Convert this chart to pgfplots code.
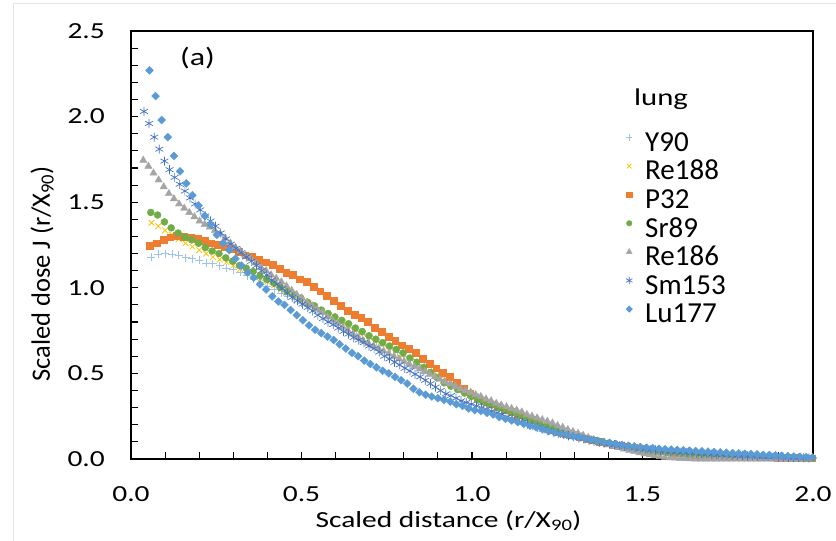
\documentclass[border=0pt]{standalone}
\usepackage{pgfplots}
\pgfplotsset{compat=1.18}
\usepackage{fontspec}
\setmainfont{Carlito}
\newfontfamily\wide{Carlito}[FakeStretch=1.28]
\newcommand\tickfont{\wide\fontsize{23bp}{27bp}\selectfont}
\newcommand\legfont{\fontsize{29bp}{34bp}\selectfont}
\definecolor{cY}{HTML}{9DC3E6}
\definecolor{cReA}{HTML}{FFC000}
\definecolor{cP}{HTML}{ED7D31}
\definecolor{cSr}{HTML}{70AD47}
\definecolor{cReB}{HTML}{A5A5A5}
\definecolor{cSm}{HTML}{4472C4}
\definecolor{cLu}{HTML}{5B9BD5}
\begin{document}
\begin{tikzpicture}
\useasboundingbox (-131bp,-82bp) rectangle (705bp,459bp);
\draw[black!10, line width=0.8bp] (-118bp,-83bp) -- (-118bp,456bp) -- (706bp,456bp);
\begin{axis}[
  at={(0,0)}, anchor=south west,
  scale only axis, width=682bp, height=428bp,
  xmin=0, xmax=2, ymin=0, ymax=2.5,
  clip=false,
  xtick={0,0.5,...,2}, ytick={0,0.5,...,2.5},
  minor x tick num=4, minor y tick num=4,
  tick align=inside, tick pos=left,
  major tick length=7bp, minor tick length=7bp,
  every tick/.style={black, line width=1.1bp},
  axis line style={black, line width=1.3bp},
  /pgf/number format/assume math mode=true,
  /pgf/number format/.cd, fixed, fixed zerofill, precision=1, /pgfplots/.cd,
  xticklabel style={font=\tickfont, inner sep=0pt, anchor=base, yshift=-42.7bp},
  yticklabel style={font=\tickfont, inner sep=0pt, anchor=east, xshift=-26bp},
  legend style={at={(0.72,0.764)}, anchor=north west, draw=none, fill=none,
    inner sep=0pt, row sep=0pt, font=\legfont,
    nodes={inner sep=0pt, text height=19bp, text depth=9.6bp}},
  legend cell align=left,
  legend image code/.code={\path[draw=none,fill=none] (-7bp,0bp) (16bp,0bp); \draw[#1,only marks,every mark/.append style={scale=0.8}] plot coordinates {(0bp,9bp)};},
]
% Y90
\addplot[only marks, mark=+, mark size=4bp, cY, line width=0.8bp] table[row sep=\\] {x y\\
0.06 1.18\\ 0.08 1.195\\ 0.10 1.20\\ 0.12 1.195\\ 0.14 1.19\\ 0.16 1.175\\ 0.18 1.17\\ 0.20 1.16\\ 0.22 1.145\\ 0.24 1.14\\
0.26 1.13\\ 0.28 1.115\\ 0.30 1.105\\ 0.32 1.09\\ 0.34 1.07\\ 0.36 1.05\\ 0.38 1.03\\ 0.40 1.01\\ 0.42 0.99\\ 0.44 0.97\\
0.46 0.95\\ 0.48 0.93\\ 0.50 0.91\\ 0.52 0.89\\ 0.54 0.87\\ 0.56 0.85\\ 0.58 0.83\\ 0.60 0.81\\ 0.62 0.79\\ 0.64 0.77\\
0.66 0.745\\ 0.68 0.725\\ 0.70 0.705\\ 0.72 0.685\\ 0.74 0.665\\ 0.76 0.645\\ 0.78 0.625\\ 0.80 0.60\\ 0.82 0.58\\ 0.84 0.555\\
0.86 0.535\\ 0.88 0.51\\ 0.90 0.49\\ 0.92 0.465\\ 0.94 0.445\\ 0.96 0.42\\ 0.98 0.40\\ 1.00 0.38\\ 1.02 0.36\\ 1.04 0.34\\
1.06 0.32\\ 1.08 0.305\\ 1.10 0.29\\ 1.12 0.275\\ 1.14 0.26\\ 1.16 0.245\\ 1.18 0.23\\ 1.20 0.215\\ 1.22 0.20\\ 1.24 0.185\\
1.26 0.17\\ 1.28 0.157\\ 1.30 0.145\\ 1.32 0.133\\ 1.34 0.122\\ 1.36 0.112\\ 1.38 0.102\\ 1.40 0.093\\ 1.42 0.085\\ 1.44 0.077\\
1.46 0.07\\ 1.48 0.064\\ 1.50 0.058\\ 1.52 0.053\\ 1.54 0.048\\ 1.56 0.044\\ 1.58 0.040\\ 1.60 0.036\\ 1.62 0.033\\ 1.64 0.030\\
1.66 0.027\\ 1.68 0.025\\ 1.70 0.023\\ 1.72 0.021\\ 1.74 0.019\\ 1.76 0.017\\ 1.78 0.015\\ 1.80 0.014\\ 1.82 0.012\\ 1.84 0.011\\
1.86 0.010\\ 1.88 0.009\\ 1.90 0.008\\ 1.92 0.007\\ 1.94 0.006\\ 1.96 0.006\\ 1.98 0.005\\ 2.00 0.005\\
};
\addlegendentry{Y90}
% Re188
\addplot[only marks, mark=x, mark size=4bp, cReA, line width=0.8bp] table[row sep=\\] {x y\\
0.06 1.38\\ 0.08 1.36\\ 0.10 1.335\\ 0.12 1.31\\ 0.14 1.285\\ 0.16 1.26\\ 0.18 1.24\\ 0.20 1.22\\ 0.22 1.20\\ 0.24 1.18\\
0.26 1.165\\ 0.28 1.15\\ 0.30 1.13\\ 0.32 1.11\\ 0.34 1.09\\ 0.36 1.075\\ 0.38 1.055\\ 0.40 1.035\\ 0.42 1.015\\ 0.44 0.99\\
0.46 0.97\\ 0.48 0.95\\ 0.50 0.93\\ 0.52 0.91\\ 0.54 0.885\\ 0.56 0.865\\ 0.58 0.84\\ 0.60 0.82\\ 0.62 0.80\\ 0.64 0.775\\
0.66 0.755\\ 0.68 0.73\\ 0.70 0.71\\ 0.72 0.69\\ 0.74 0.67\\ 0.76 0.65\\ 0.78 0.63\\ 0.80 0.61\\ 0.82 0.585\\ 0.84 0.56\\
0.86 0.535\\ 0.88 0.51\\ 0.90 0.49\\ 0.92 0.465\\ 0.94 0.44\\ 0.96 0.42\\ 0.98 0.395\\ 1.00 0.375\\ 1.02 0.355\\ 1.04 0.335\\
1.06 0.32\\ 1.08 0.30\\ 1.10 0.285\\ 1.12 0.27\\ 1.14 0.255\\ 1.16 0.24\\ 1.18 0.225\\ 1.20 0.21\\ 1.22 0.195\\ 1.24 0.18\\
1.26 0.165\\ 1.28 0.152\\ 1.30 0.14\\ 1.32 0.13\\ 1.34 0.12\\ 1.36 0.11\\ 1.38 0.10\\ 1.40 0.09\\ 1.42 0.082\\ 1.44 0.075\\
1.46 0.068\\ 1.48 0.062\\ 1.50 0.056\\ 1.52 0.051\\ 1.54 0.046\\ 1.56 0.042\\ 1.58 0.038\\ 1.60 0.034\\ 1.62 0.031\\ 1.64 0.028\\
1.66 0.025\\ 1.68 0.023\\ 1.70 0.021\\ 1.72 0.019\\ 1.74 0.017\\ 1.76 0.015\\ 1.78 0.014\\ 1.80 0.012\\ 1.82 0.011\\ 1.84 0.010\\
1.86 0.009\\ 1.88 0.008\\ 1.90 0.007\\ 1.92 0.006\\ 1.94 0.006\\ 1.96 0.005\\ 1.98 0.005\\ 2.00 0.004\\
};
\addlegendentry{Re188}
% P32
\addplot[only marks, mark=square*, mark size=3.4bp, cP] table[row sep=\\] {x y\\
0.055 1.245\\ 0.075 1.26\\ 0.095 1.28\\ 0.115 1.295\\ 0.135 1.305\\ 0.155 1.30\\ 0.175 1.295\\ 0.195 1.285\\ 0.215 1.275\\ 0.235 1.26\\
0.255 1.25\\ 0.275 1.24\\ 0.295 1.225\\ 0.315 1.21\\ 0.335 1.19\\ 0.355 1.18\\ 0.375 1.165\\ 0.395 1.15\\ 0.415 1.135\\ 0.435 1.11\\
0.455 1.09\\ 0.475 1.075\\ 0.495 1.05\\ 0.515 1.035\\ 0.535 1.005\\ 0.555 0.98\\ 0.575 0.955\\ 0.595 0.925\\ 0.615 0.895\\ 0.635 0.865\\
0.655 0.845\\ 0.675 0.825\\ 0.695 0.80\\ 0.715 0.765\\ 0.735 0.745\\ 0.755 0.715\\ 0.775 0.69\\ 0.795 0.665\\ 0.815 0.645\\ 0.835 0.62\\
0.855 0.585\\ 0.875 0.555\\ 0.895 0.53\\ 0.915 0.505\\ 0.935 0.48\\ 0.955 0.445\\ 0.975 0.41\\ 0.995 0.38\\ 1.015 0.355\\ 1.035 0.34\\
1.055 0.32\\ 1.075 0.305\\ 1.095 0.29\\ 1.115 0.275\\ 1.135 0.26\\ 1.155 0.245\\ 1.175 0.23\\ 1.195 0.205\\ 1.215 0.185\\ 1.235 0.17\\
1.255 0.16\\ 1.275 0.15\\ 1.295 0.14\\ 1.315 0.13\\ 1.335 0.12\\ 1.355 0.11\\ 1.375 0.10\\ 1.395 0.092\\ 1.415 0.085\\ 1.435 0.078\\
1.455 0.071\\ 1.475 0.065\\ 1.495 0.059\\ 1.515 0.054\\ 1.535 0.049\\ 1.555 0.045\\ 1.575 0.041\\ 1.595 0.037\\ 1.615 0.034\\ 1.635 0.031\\
1.655 0.028\\ 1.675 0.026\\ 1.695 0.024\\ 1.715 0.022\\ 1.735 0.020\\ 1.755 0.018\\ 1.775 0.016\\ 1.795 0.015\\ 1.815 0.013\\ 1.835 0.012\\
1.855 0.011\\ 1.875 0.010\\ 1.895 0.009\\ 1.915 0.008\\ 1.935 0.007\\ 1.955 0.006\\ 1.975 0.005\\ 1.995 0.005\\
};
\addlegendentry{P32}
% Sr89
\addplot[only marks, mark=*, mark size=3.5bp, cSr] table[row sep=\\] {x y\\
0.058 1.44\\ 0.078 1.425\\ 0.098 1.385\\ 0.118 1.35\\ 0.138 1.32\\ 0.158 1.295\\ 0.178 1.28\\ 0.198 1.26\\ 0.218 1.235\\ 0.238 1.215\\
0.258 1.20\\ 0.278 1.175\\ 0.298 1.155\\ 0.318 1.13\\ 0.338 1.115\\ 0.358 1.095\\ 0.378 1.07\\ 0.398 1.05\\ 0.418 1.03\\ 0.438 1.005\\
0.458 0.98\\ 0.478 0.96\\ 0.498 0.94\\ 0.518 0.915\\ 0.538 0.895\\ 0.558 0.87\\ 0.578 0.85\\ 0.598 0.83\\ 0.618 0.81\\ 0.638 0.79\\
0.658 0.765\\ 0.678 0.745\\ 0.698 0.72\\ 0.718 0.70\\ 0.738 0.68\\ 0.758 0.66\\ 0.778 0.64\\ 0.798 0.62\\ 0.818 0.59\\ 0.838 0.565\\
0.858 0.535\\ 0.878 0.505\\ 0.898 0.475\\ 0.918 0.445\\ 0.938 0.425\\ 0.958 0.405\\ 0.978 0.385\\ 0.998 0.365\\ 1.018 0.345\\ 1.038 0.33\\
1.058 0.315\\ 1.078 0.30\\ 1.098 0.285\\ 1.118 0.27\\ 1.138 0.255\\ 1.158 0.24\\ 1.178 0.225\\ 1.198 0.21\\ 1.218 0.195\\ 1.238 0.18\\
1.258 0.165\\ 1.278 0.152\\ 1.298 0.14\\ 1.318 0.13\\ 1.338 0.12\\ 1.358 0.11\\ 1.378 0.10\\ 1.398 0.091\\ 1.418 0.083\\ 1.438 0.076\\
1.458 0.069\\ 1.478 0.063\\ 1.498 0.057\\ 1.518 0.052\\ 1.538 0.047\\ 1.558 0.043\\ 1.578 0.039\\ 1.598 0.035\\ 1.618 0.032\\ 1.638 0.029\\
1.658 0.026\\ 1.678 0.024\\ 1.698 0.022\\ 1.718 0.020\\ 1.738 0.018\\ 1.758 0.016\\ 1.778 0.015\\ 1.798 0.013\\ 1.818 0.012\\ 1.838 0.011\\
1.858 0.010\\ 1.878 0.009\\ 1.898 0.008\\ 1.918 0.007\\ 1.938 0.006\\ 1.958 0.006\\ 1.978 0.005\\ 1.998 0.005\\
};
\addlegendentry{Sr89}
% Re186
\addplot[only marks, mark=triangle*, mark size=4.2bp, cReB] table[row sep=\\] {x y\\
0.036 1.745\\ 0.051 1.71\\ 0.066 1.67\\ 0.081 1.63\\ 0.096 1.59\\ 0.111 1.55\\ 0.126 1.52\\ 0.141 1.49\\ 0.156 1.465\\ 0.171 1.44\\
0.186 1.415\\ 0.201 1.39\\ 0.216 1.37\\ 0.231 1.355\\ 0.246 1.335\\ 0.261 1.315\\ 0.276 1.29\\ 0.291 1.26\\ 0.306 1.235\\ 0.321 1.215\\
0.336 1.19\\ 0.351 1.17\\ 0.366 1.145\\ 0.381 1.12\\ 0.396 1.10\\ 0.411 1.075\\ 0.426 1.055\\ 0.441 1.035\\ 0.456 1.01\\ 0.471 0.985\\
0.486 0.96\\ 0.501 0.94\\ 0.516 0.915\\ 0.531 0.895\\ 0.546 0.875\\ 0.561 0.855\\ 0.576 0.83\\ 0.591 0.81\\ 0.606 0.79\\ 0.621 0.77\\
0.636 0.75\\ 0.651 0.73\\ 0.666 0.71\\ 0.681 0.69\\ 0.696 0.675\\ 0.711 0.66\\ 0.726 0.645\\ 0.741 0.63\\ 0.756 0.615\\ 0.771 0.60\\
0.786 0.585\\ 0.801 0.57\\ 0.816 0.555\\ 0.831 0.54\\ 0.846 0.525\\ 0.861 0.51\\ 0.876 0.495\\ 0.891 0.48\\ 0.906 0.465\\ 0.921 0.45\\
0.936 0.44\\ 0.951 0.425\\ 0.966 0.41\\ 0.981 0.40\\ 0.996 0.39\\ 1.011 0.375\\ 1.026 0.365\\ 1.041 0.35\\ 1.056 0.34\\ 1.071 0.325\\
1.086 0.315\\ 1.101 0.305\\ 1.116 0.295\\ 1.131 0.285\\ 1.146 0.275\\ 1.161 0.26\\ 1.176 0.25\\ 1.191 0.24\\ 1.206 0.23\\ 1.221 0.22\\
1.236 0.21\\ 1.251 0.195\\ 1.266 0.185\\ 1.281 0.172\\ 1.296 0.16\\ 1.311 0.15\\ 1.326 0.138\\ 1.341 0.125\\ 1.356 0.113\\ 1.371 0.103\\
1.386 0.093\\ 1.401 0.083\\ 1.416 0.074\\ 1.431 0.066\\ 1.446 0.058\\ 1.461 0.05\\ 1.476 0.043\\ 1.491 0.036\\ 1.506 0.03\\ 1.521 0.024\\
1.536 0.019\\ 1.551 0.014\\ 1.566 0.010\\ 1.581 0.007\\ 1.596 0.005\\ 1.611 0.003\\ 1.626 0.002\\ 1.641 0.001\\ 1.656 0\\ 1.671 0\\
1.686 0\\ 1.701 0\\ 1.716 0\\ 1.731 0\\ 1.746 0\\ 1.761 0\\ 1.776 0\\ 1.791 0\\ 1.806 0\\ 1.821 0\\
1.836 0\\ 1.851 0\\ 1.866 0\\ 1.881 0\\ 1.896 0\\ 1.911 0\\ 1.926 0\\ 1.941 0\\ 1.956 0\\ 1.971 0\\ 1.986 0\\
};
\addlegendentry{Re186}
% Sm153
\addplot[only marks, mark=asterisk, mark size=4.6bp, cSm, line width=0.7bp] table[row sep=\\] {x y\\
0.038 2.03\\ 0.053 1.96\\ 0.068 1.88\\ 0.083 1.81\\ 0.098 1.74\\ 0.113 1.69\\ 0.128 1.645\\ 0.143 1.605\\ 0.158 1.565\\ 0.173 1.525\\
0.188 1.49\\ 0.203 1.455\\ 0.218 1.42\\ 0.233 1.39\\ 0.248 1.36\\ 0.263 1.32\\ 0.278 1.285\\ 0.293 1.255\\ 0.308 1.23\\ 0.323 1.205\\
0.338 1.18\\ 0.353 1.155\\ 0.368 1.13\\ 0.383 1.10\\ 0.398 1.075\\ 0.413 1.045\\ 0.428 1.02\\ 0.443 0.995\\ 0.458 0.97\\ 0.473 0.945\\
0.488 0.925\\ 0.503 0.905\\ 0.518 0.885\\ 0.533 0.865\\ 0.548 0.84\\ 0.563 0.82\\ 0.578 0.80\\ 0.593 0.785\\ 0.608 0.765\\ 0.623 0.745\\
0.638 0.73\\ 0.653 0.71\\ 0.668 0.695\\ 0.683 0.68\\ 0.698 0.66\\ 0.713 0.645\\ 0.728 0.625\\ 0.743 0.60\\ 0.758 0.585\\ 0.773 0.565\\
0.788 0.55\\ 0.803 0.53\\ 0.818 0.515\\ 0.833 0.495\\ 0.848 0.48\\ 0.863 0.46\\ 0.878 0.44\\ 0.893 0.42\\ 0.908 0.40\\ 0.923 0.38\\
0.938 0.37\\ 0.953 0.355\\ 0.968 0.34\\ 0.983 0.33\\ 0.998 0.32\\ 1.013 0.31\\ 1.028 0.30\\ 1.043 0.29\\ 1.058 0.28\\ 1.073 0.27\\
1.088 0.26\\ 1.103 0.245\\ 1.118 0.235\\ 1.133 0.225\\ 1.148 0.215\\ 1.163 0.205\\ 1.178 0.195\\ 1.193 0.185\\ 1.208 0.175\\ 1.223 0.165\\
1.238 0.157\\ 1.253 0.15\\ 1.268 0.143\\ 1.283 0.136\\ 1.298 0.13\\ 1.313 0.124\\ 1.328 0.117\\ 1.343 0.11\\ 1.358 0.104\\ 1.373 0.098\\
1.388 0.093\\ 1.403 0.088\\ 1.418 0.083\\ 1.433 0.078\\ 1.448 0.074\\ 1.463 0.070\\ 1.478 0.066\\ 1.493 0.062\\ 1.508 0.058\\ 1.523 0.055\\
1.538 0.052\\ 1.553 0.049\\ 1.568 0.046\\ 1.583 0.044\\ 1.598 0.042\\ 1.613 0.040\\ 1.628 0.038\\ 1.643 0.036\\ 1.658 0.034\\ 1.673 0.032\\
1.688 0.030\\ 1.703 0.028\\ 1.718 0.027\\ 1.733 0.025\\ 1.748 0.024\\ 1.763 0.022\\ 1.778 0.021\\ 1.793 0.020\\ 1.808 0.018\\ 1.823 0.017\\
1.838 0.016\\ 1.853 0.015\\ 1.868 0.014\\ 1.883 0.013\\ 1.898 0.012\\ 1.913 0.011\\ 1.928 0.010\\ 1.943 0.009\\ 1.958 0.008\\ 1.973 0.007\\ 1.988 0.006\\
};
\addlegendentry{Sm153}
% Lu177
\addplot[only marks, mark=square*, mark options={rotate=45}, mark size=2.8bp, cLu] table[row sep=\\] {x y\\
0.054 2.27\\ 0.072 2.12\\ 0.090 1.98\\ 0.108 1.88\\ 0.126 1.77\\ 0.144 1.68\\ 0.162 1.61\\ 0.180 1.54\\ 0.198 1.48\\ 0.216 1.42\\
0.234 1.37\\ 0.252 1.31\\ 0.270 1.26\\ 0.288 1.22\\ 0.306 1.17\\ 0.324 1.13\\ 0.342 1.09\\ 0.360 1.06\\ 0.378 1.02\\ 0.396 0.99\\
0.414 0.95\\ 0.432 0.92\\ 0.450 0.90\\ 0.468 0.87\\ 0.486 0.84\\ 0.504 0.81\\ 0.522 0.78\\ 0.540 0.755\\ 0.558 0.735\\ 0.576 0.715\\
0.594 0.695\\ 0.612 0.67\\ 0.630 0.645\\ 0.648 0.62\\ 0.666 0.60\\ 0.684 0.575\\ 0.702 0.555\\ 0.720 0.535\\ 0.738 0.515\\ 0.756 0.50\\
0.774 0.48\\ 0.792 0.46\\ 0.810 0.44\\ 0.828 0.41\\ 0.846 0.39\\ 0.864 0.375\\ 0.882 0.365\\ 0.900 0.355\\ 0.918 0.345\\ 0.936 0.335\\
0.954 0.32\\ 0.972 0.31\\ 0.990 0.295\\ 1.008 0.285\\ 1.026 0.28\\ 1.044 0.27\\ 1.062 0.26\\ 1.080 0.245\\ 1.098 0.235\\ 1.116 0.225\\
1.134 0.215\\ 1.152 0.205\\ 1.170 0.195\\ 1.188 0.185\\ 1.206 0.175\\ 1.224 0.163\\ 1.242 0.155\\ 1.260 0.147\\ 1.278 0.14\\ 1.296 0.133\\
1.314 0.126\\ 1.332 0.118\\ 1.350 0.112\\ 1.368 0.106\\ 1.386 0.10\\ 1.404 0.094\\ 1.422 0.088\\ 1.440 0.083\\ 1.458 0.078\\ 1.476 0.074\\
1.494 0.070\\ 1.512 0.066\\ 1.530 0.063\\ 1.548 0.060\\ 1.566 0.057\\ 1.584 0.055\\ 1.602 0.053\\ 1.620 0.051\\ 1.638 0.049\\ 1.656 0.047\\
1.674 0.045\\ 1.692 0.043\\ 1.710 0.041\\ 1.728 0.039\\ 1.746 0.037\\ 1.764 0.035\\ 1.782 0.033\\ 1.800 0.031\\ 1.818 0.029\\ 1.836 0.027\\
1.854 0.025\\ 1.872 0.023\\ 1.890 0.021\\ 1.908 0.019\\ 1.926 0.017\\ 1.944 0.015\\ 1.962 0.013\\ 1.980 0.011\\ 1.998 0.009\\
};
\addlegendentry{Lu177}
\end{axis}
\node[font=\wide\fontsize{25bp}{30bp}\selectfont, inner sep=0pt] at (66.5bp,400.5bp) {(a)};
\node[font=\wide\fontsize{24bp}{29bp}\selectfont, inner sep=0pt, anchor=base west] at (503bp,353bp) {lung};
\node[font=\wide\fontsize{23bp}{28bp}\selectfont, inner sep=0pt, anchor=base] at (317.5bp,-68bp) {Scaled distance (r/X\textsubscript{90})};
\node[font=\fontsize{26.5bp}{30bp}\selectfont, inner sep=0pt, anchor=base, rotate=90] at (-81bp,185bp) {Scaled dose J (r/X\textsubscript{90})};
\end{tikzpicture}
\end{document}
